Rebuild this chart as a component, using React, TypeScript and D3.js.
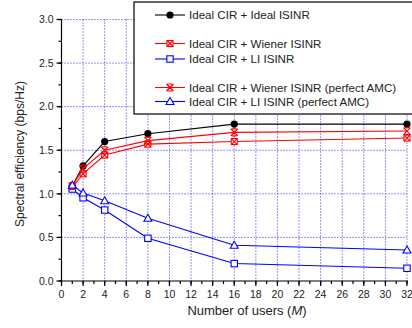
import React from "react";
import * as d3 from "d3";

const users = [1, 2, 4, 8, 16, 32];
const idealIdeal = [1.09, 1.32, 1.6, 1.69, 1.8, 1.8];
const wiener = [1.07, 1.23, 1.445, 1.57, 1.6, 1.64];
const li = [1.055, 0.955, 0.814, 0.49, 0.2, 0.146];
const wienerPerfect = [1.09, 1.29, 1.5, 1.61, 1.705, 1.72];
const liPerfect = [1.1, 1.01, 0.92, 0.72, 0.41, 0.355];

const xTicks = d3.range(0, 33, 2);
const xMinor = d3.range(0, 33, 1);
const yTicks = [0, 0.5, 1.0, 1.5, 2.0, 2.5, 3.0];
const yMinor = d3.range(0, 3.01, 0.25);

type MarkerKind = "circle" | "boxx" | "square" | "hourglass" | "triangle";

const series: { name: string; values: number[]; color: string; marker: MarkerKind }[] = [
  { name: "Ideal CIR + Ideal ISINR", values: idealIdeal, color: "#000000", marker: "circle" },
  { name: "Ideal CIR + Wiener ISINR", values: wiener, color: "#ff0000", marker: "boxx" },
  { name: "Ideal CIR + LI ISINR", values: li, color: "#0000ff", marker: "square" },
  { name: "Ideal CIR + Wiener ISINR (perfect AMC)", values: wienerPerfect, color: "#ff0000", marker: "hourglass" },
  { name: "Ideal CIR + LI ISINR (perfect AMC)", values: liPerfect, color: "#0000ff", marker: "triangle" },
];

const legendRows = [15, 43.5, 59, 87.5, 101.5];

function Marker({ kind, x, y, color }: { kind: MarkerKind; x: number; y: number; color: string }) {
  switch (kind) {
    case "circle":
      return <circle cx={x} cy={y} r={3.6} fill={color} />;
    case "square":
      return <rect x={x - 3.2} y={y - 3.2} width={6.4} height={6.4} fill="white" stroke={color} strokeWidth={1.1} />;
    case "boxx":
      return (
        <g stroke={color} strokeWidth={1.1} fill="white">
          <rect x={x - 3} y={y - 3} width={6} height={6} />
          <path d={`M${x - 3},${y - 3}L${x + 3},${y + 3}M${x + 3},${y - 3}L${x - 3},${y + 3}`} />
        </g>
      );
    case "hourglass":
      return (
        <g stroke={color} strokeWidth={1.2} fill="none">
          <path d={`M${x - 3.5},${y - 3.5}L${x + 3.5},${y + 3.5}M${x + 3.5},${y - 3.5}L${x - 3.5},${y + 3.5}M${x - 2.5},${y - 3.5}L${x + 2.5},${y - 3.5}M${x - 2.5},${y + 3.5}L${x + 2.5},${y + 3.5}`} />
        </g>
      );
    case "triangle":
      return (
        <path
          d={`M${x},${y - 4}L${x + 4},${y + 3}L${x - 4},${y + 3}Z`}
          fill="white"
          stroke={color}
          strokeWidth={1.1}
        />
      );
  }
}

export default function App() {
  const W = 412;
  const H = 328;
  const x = d3.scaleLinear().domain([0, 32]).range([61.5, 407]);
  const y = d3.scaleLinear().domain([0, 3]).range([281, 19.5]);
  const line = d3
    .line<[number, number]>()
    .x((d) => x(d[0]))
    .y((d) => y(d[1]));
  const font = "'Liberation Sans', Arial, sans-serif";

  return (
    <svg
      width={W}
      height={H}
      style={{ position: "fixed", left: 0, top: 0, background: "white" }}
      fontFamily={font}
    >
      <rect width={W} height={H} fill="white" />
      {/* grid */}
      <g stroke="#0000ff" strokeWidth={1} strokeDasharray="1,2" opacity={0.85}>
        {xTicks
          .filter((t) => t > 0)
          .map((t) => (
            <line key={"gx" + t} x1={x(t)} x2={x(t)} y1={y(3)} y2={y(0)} />
          ))}
        {yTicks
          .filter((t) => t > 0)
          .map((t) => (
            <line key={"gy" + t} x1={x(0)} x2={x(32)} y1={y(t)} y2={y(t)} />
          ))}
      </g>
      {/* series */}
      {series.map((s) => (
        <g key={s.name}>
          <path
            d={line(users.map((u, i) => [u, s.values[i]] as [number, number])) || ""}
            fill="none"
            stroke={s.color}
            strokeWidth={1.1}
          />
          {users.map((u, i) => (
            <Marker key={i} kind={s.marker} x={x(u)} y={y(s.values[i])} color={s.color} />
          ))}
        </g>
      ))}
      {/* axes */}
      <g stroke="black" strokeWidth={1.2}>
        <line x1={x(0)} x2={x(0)} y1={y(3)} y2={y(0)} />
        <line x1={x(0)} x2={x(32) + 1} y1={y(0)} y2={y(0)} />
        {yTicks.map((t) => (
          <line key={"yt" + t} x1={x(0) - 5} x2={x(0)} y1={y(t)} y2={y(t)} />
        ))}
        {yMinor.map((t) => (
          <line key={"ym" + t} x1={x(0) - 3} x2={x(0)} y1={y(t)} y2={y(t)} />
        ))}
        {xTicks.map((t) => (
          <line key={"xt" + t} x1={x(t)} x2={x(t)} y1={y(0)} y2={y(0) + 5} />
        ))}
        {xMinor.map((t) => (
          <line key={"xm" + t} x1={x(t)} x2={x(t)} y1={y(0)} y2={y(0) + 3} />
        ))}
      </g>
      <g fontSize={10.5} fill="#222">
        {yTicks.map((t) => (
          <text key={"yl" + t} x={x(0) - 8} y={y(t) + 3.8} textAnchor="end">
            {d3.format(".1f")(t)}
          </text>
        ))}
        {xTicks.map((t) => (
          <text key={"xl" + t} x={x(t)} y={y(0) + 17} textAnchor="middle">
            {t}
          </text>
        ))}
      </g>
      <text x={247} y={315} textAnchor="middle" fontSize={13} fill="#222">
        Number of users (<tspan fontStyle="italic">M</tspan>)
      </text>
      <text
        transform={`translate(24,154) rotate(-90)`}
        textAnchor="middle"
        fontSize={12}
        fill="#222"
      >
        Spectral efficiency (bps/Hz)
      </text>
      {/* legend */}
      <rect x={134} y={2} width={290} height={112} fill="white" stroke="black" strokeWidth={1.2} />
      {series.map((s, i) => (
        <g key={"lg" + i}>
          <line x1={155} x2={185} y1={legendRows[i]} y2={legendRows[i]} stroke={s.color} strokeWidth={1.1} />
          <Marker kind={s.marker} x={170} y={legendRows[i]} color={s.color} />
          <text x={189} y={legendRows[i] + 4} fontSize={11.6} fill="#222">
            {s.name}
          </text>
        </g>
      ))}
    </svg>
  );
}
